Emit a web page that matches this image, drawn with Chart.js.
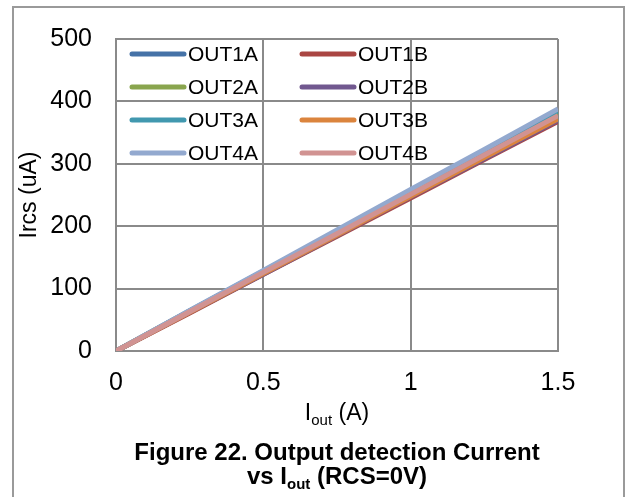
<!DOCTYPE html>
<html>
<head>
<meta charset="utf-8">
<script src="https://cdn.jsdelivr.net/npm/chart.js@4"></script>
<style>
  html, body { margin: 0; padding: 0; background: #fff; }
  #wrap { width: 630px; height: 497px; }
</style>
</head>
<body>
<div id="wrap"><canvas id="irc" width="630" height="497"></canvas></div>
<script>
// measured points, Iout in A
var ioutA = [0, 0.25, 0.5, 0.75, 1.0, 1.25, 1.5];

// Ircs in uA per output
var out1A = [0, 64, 128, 191, 255, 319, 383];
var out1B = [0, 61, 123, 184, 245, 307, 368];
var out2A = [0, 64, 127, 191, 254, 318, 382];
var out2B = [0, 62, 123, 185, 247, 308, 370];
var out3A = [0, 64, 128, 192, 256, 320, 385];
var out3B = [0, 62, 124, 186, 248, 310, 372];
var out4A = [0, 65, 129, 194, 259, 323, 388];
var out4B = [0, 63, 126, 188, 251, 314, 377];

var seriesNames = ['OUT1A', 'OUT1B', 'OUT2A', 'OUT2B', 'OUT3A', 'OUT3B', 'OUT4A', 'OUT4B'];
var seriesColors = ['#4572A7', '#AA4643', '#89A54E', '#71588F', '#4198AF', '#DB843D', '#93A9CF', '#D19392'];
var seriesData = [out1A, out1B, out2A, out2B, out3A, out3B, out4A, out4B];

var xTicks = [0, 0.5, 1, 1.5];
var yTicks = [0, 100, 200, 300, 400, 500];

var FONT = "'Liberation Sans', Arial, sans-serif";
var GRID = '#8a8a8a';

function makeSets() {
    let sets = [];
    for(let i=0; i<seriesNames.length; i++) {
        let pts = [];
        for(let j=0; j<ioutA.length; j++) {
            pts.push({x: ioutA[j], y: seriesData[i][j]});
        }
        sets.push({
            label: seriesNames[i],
            data: pts,
            borderColor: seriesColors[i],
            backgroundColor: seriesColors[i],
            borderWidth: 5,
            pointRadius: 0,
            tension: 0,
            fill: false,
            order: seriesNames.length - i
        });
    }
    return sets;
}

// frame, titles, caption and the in-plot legend
var decorPlugin = {
    id: 'decor',
    afterDraw(chart) {
        let ctx = chart.ctx;
        let area = chart.chartArea;
        let cx = (area.left + area.right) / 2;
        ctx.save();

        //outer frame
        ctx.strokeStyle = '#9a9a9a';
        ctx.lineWidth = 2;
        ctx.strokeRect(13, 7, 611, 600);

        //y title
        ctx.fillStyle = '#000';
        ctx.font = '23px ' + FONT;
        ctx.textAlign = 'center';
        ctx.textBaseline = 'middle';
        ctx.save();
        ctx.translate(30, (area.top + area.bottom) / 2);
        ctx.rotate(-Math.PI / 2);
        ctx.fillText('Ircs (uA)', 0, 0);
        ctx.restore();

        //x title with subscript
        drawSub(ctx, '', 'I', 'out', ' (A)', cx, 420, 23, 15, 5);

        //caption
        ctx.font = 'bold 24px ' + FONT;
        ctx.textAlign = 'center';
        ctx.textBaseline = 'alphabetic';
        ctx.fillText('Figure 22. Output detection Current', cx, 460);
        drawSub(ctx, 'bold ', 'vs I', 'out', ' (RCS=0V)', cx, 484, 24, 15, 5);

        //legend
        ctx.font = '21px ' + FONT;
        ctx.textAlign = 'left';
        ctx.textBaseline = 'middle';
        ctx.lineCap = 'round';
        ctx.lineWidth = 5;
        let colX = [130, 300];
        for(let i=0; i<chart.data.datasets.length; i++) {
            let ds = chart.data.datasets[i];
            let x0 = colX[i % 2];
            let y0 = 54 + Math.floor(i / 2) * 33;
            ctx.strokeStyle = ds.borderColor;
            ctx.beginPath();
            ctx.moveTo(x0 + 2, y0);
            ctx.lineTo(x0 + 54, y0);
            ctx.stroke();
            ctx.fillStyle = '#000';
            ctx.fillText(ds.label, x0 + 58, y0 + 1);
        }
        ctx.restore();
    }
};

function drawSub(ctx, weight, pre, sub, post, cx, base, size, subSize, drop) {
    ctx.textBaseline = 'alphabetic';
    ctx.textAlign = 'left';
    ctx.font = weight + size + 'px ' + FONT;
    let w1 = ctx.measureText(pre).width;
    let w3 = ctx.measureText(post).width;
    ctx.font = weight + subSize + 'px ' + FONT;
    let w2 = ctx.measureText(sub).width;
    let x = cx - (w1 + w2 + w3) / 2;
    ctx.font = weight + size + 'px ' + FONT;
    ctx.fillText(pre, x, base);
    ctx.font = weight + subSize + 'px ' + FONT;
    ctx.fillText(sub, x + w1, base + drop);
    ctx.font = weight + size + 'px ' + FONT;
    ctx.fillText(post, x + w1 + w2, base);
}

var ctx = document.getElementById('irc').getContext('2d');
var ircChart = new Chart(ctx, {
    type: 'line',
    data: {
        datasets: makeSets()
    },
    options: {
        responsive: false,
        animation: false,
        events: [],
        layout: {
            padding: { left: 0, top: 38, right: 72, bottom: 0 }
        },
        plugins: {
            legend: { display: false },
            tooltip: { enabled: false },
            title: { display: false }
        },
        scales: {
            x: {
                type: 'linear',
                min: 0,
                max: 1.5,
                afterBuildTicks: function(scale) {
                    scale.ticks = xTicks.map(v => ({value: v}));
                },
                afterFit: function(scale) {
                    scale.height = 146;
                },
                ticks: {
                    color: '#000',
                    font: { family: FONT, size: 25 },
                    padding: 17,
                    maxRotation: 0,
                    callback: v => String(v)
                },
                grid: { color: GRID, lineWidth: 2, drawTicks: false },
                border: { color: GRID, width: 2 }
            },
            y: {
                type: 'linear',
                min: 0,
                max: 500,
                afterBuildTicks: function(scale) {
                    scale.ticks = yTicks.map(v => ({value: v}));
                },
                afterFit: function(scale) {
                    scale.width = 116;
                },
                ticks: {
                    color: '#000',
                    font: { family: FONT, size: 25 },
                    padding: 24,
                    callback: v => String(v)
                },
                grid: { color: GRID, lineWidth: 2, drawTicks: false },
                border: { color: GRID, width: 2 }
            }
        }
    },
    plugins: [decorPlugin]
});
</script>
</body>
</html>
